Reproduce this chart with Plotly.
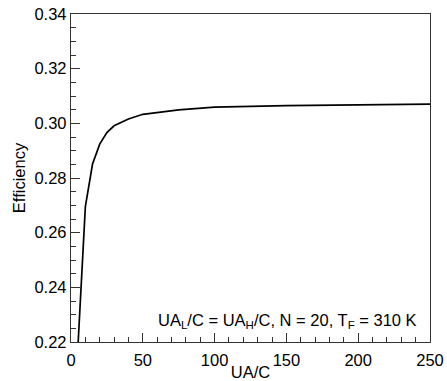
import plotly.graph_objects as go

ua_c = [5, 10, 15, 20, 25, 30, 40, 50, 75, 100, 150, 200, 250]
efficiency = [0.2200, 0.2695, 0.2851, 0.2924, 0.2966, 0.2991, 0.3016, 0.3033,
              0.3049, 0.3059, 0.3065, 0.3067, 0.3070]

x_ticks = [0, 50, 100, 150, 200, 250]
y_ticks = [0.22, 0.24, 0.26, 0.28, 0.30, 0.32, 0.34]

FONT = "Liberation Sans, Arial, sans-serif"
FS = 16.5

fig = go.Figure()
fig.add_trace(go.Scatter(x=ua_c, y=efficiency, mode="lines",
                         line=dict(color="black", width=1.7), showlegend=False))

axis_common = dict(
    showgrid=False, zeroline=False, showline=True, linecolor="#333", linewidth=1.3,
    mirror=True, ticks="inside", ticklen=9, tickwidth=1.2, tickcolor="#333",
    tickfont=dict(family=FONT, size=FS, color="black"), automargin=False,
)

fig.update_xaxes(range=[0, 250], tickvals=x_ticks, ticktext=[str(v) for v in x_ticks],
                 minor=dict(dtick=10, ticks="inside", ticklen=5, tickwidth=1.1, tickcolor="#333"),
                 ticklabelstandoff=3,
                 title=dict(text="UA/C", font=dict(family=FONT, size=FS, color="black"), standoff=0),
                 **axis_common)
fig.update_yaxes(range=[0.22, 0.34], tickvals=y_ticks, ticktext=[f"{v:.2f}" for v in y_ticks],
                 minor=dict(dtick=0.005, tick0=0.22, ticks="inside", ticklen=5, tickwidth=1.1, tickcolor="#333"),
                 title=dict(text="Efficiency", font=dict(family=FONT, size=FS, color="black"), standoff=4),
                 **axis_common)

fig.add_annotation(x=242, y=0.2277, xref="x", yref="y", xanchor="right", yanchor="middle",
                   text="UA<sub>L</sub>/C = UA<sub>H</sub>/C, N = 20, T<sub>F</sub> = 310 K",
                   showarrow=False, font=dict(family=FONT, size=FS, color="black"))

fig.update_layout(width=447, height=381, margin=dict(l=71, r=17, t=14, b=39),
                  paper_bgcolor="white", plot_bgcolor="white")

fig.write_html("out.html", config={"displayModeBar": False},
               post_script="document.body.style.margin='0';document.body.style.overflow='hidden';")
